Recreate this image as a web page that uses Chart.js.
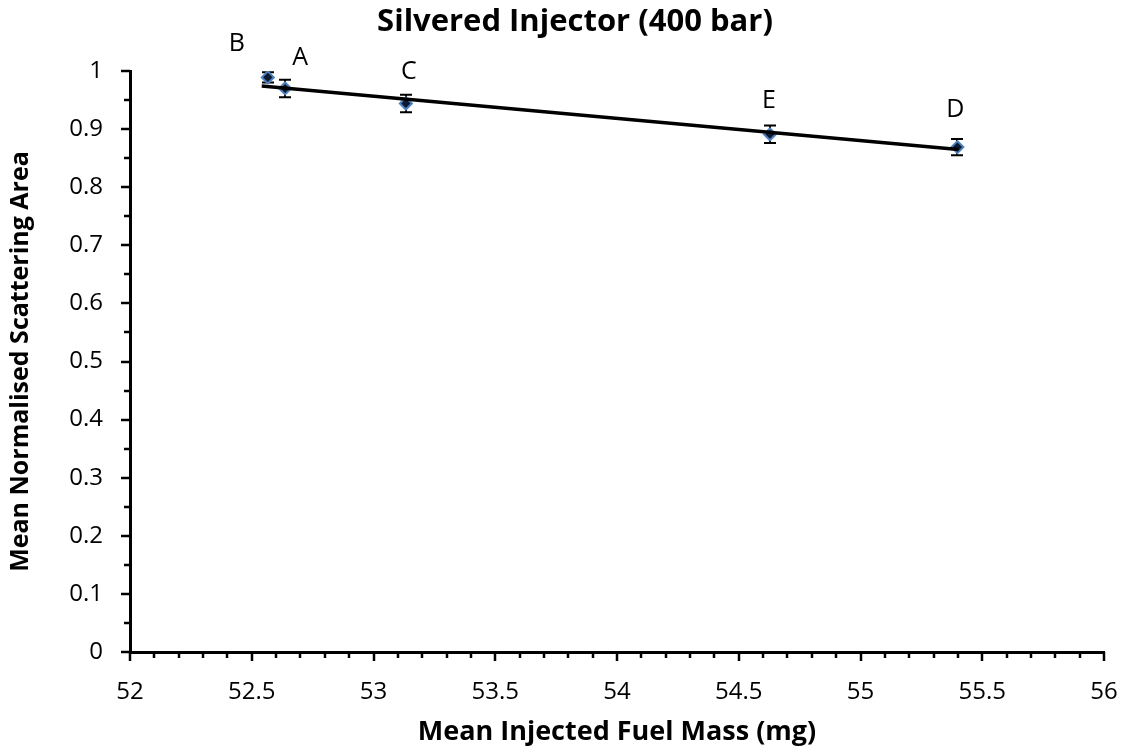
<!DOCTYPE html>
<html>
<head>
<meta charset="utf-8">
<script src="https://cdn.jsdelivr.net/npm/chart.js@4.4.1/dist/chart.umd.min.js"></script>
<style>
  html, body { margin: 0; padding: 0; background: #fff; }
  #wrap { width: 1126px; height: 753px; }
</style>
</head>
<body>
<div id="wrap"><canvas id="chart"></canvas></div>
<script>
// values
const pointNames  = ['B', 'A', 'C', 'E', 'D'];
const fuelMass    = [52.566, 52.637, 53.133, 54.628, 55.398];
const scatterArea = [0.989, 0.970, 0.944, 0.891, 0.869];
const errorSize   = [0.009, 0.015, 0.015, 0.015, 0.014];

// trendline end points
const trendMass = [52.541, 55.402];
const trendArea = [0.974, 0.865];

const xTickValues = [52, 52.5, 53, 53.5, 54, 54.5, 55, 55.5, 56];
const yTickValues = [0, 0.1, 0.2, 0.3, 0.4, 0.5, 0.6, 0.7, 0.8, 0.9, 1];
const xMinorStep = 0.1;
const yMinorStep = 0.05;

const titleText = 'Silvered Injector (400 bar)';
const FONT = "'Open Sans', sans-serif";

// label offsets in px (dx, dy) relative to each point
const labelOffsets = [[-31, -34], [15, -31], [3, -32], [-1, -33], [-2, -37]];

const errorBars = {
  id: 'errorBars',
  beforeDatasetsDraw(chart) {
    const ctx = chart.ctx;
    const x = chart.scales.x, y = chart.scales.y;
    ctx.save();
    ctx.strokeStyle = '#000';
    ctx.lineWidth = 2;
    fuelMass.forEach(function (m, i) {
      const px = Math.round(x.getPixelForValue(m));
      const top = y.getPixelForValue(scatterArea[i] + errorSize[i]);
      const bot = y.getPixelForValue(scatterArea[i] - errorSize[i]);
      ctx.beginPath();
      ctx.moveTo(px, top); ctx.lineTo(px, bot);
      ctx.moveTo(px - 6, top); ctx.lineTo(px + 6, top);
      ctx.moveTo(px - 6, bot); ctx.lineTo(px + 6, bot);
      ctx.stroke();
    });
    ctx.restore();
  }
};

const extras = {
  id: 'extras',
  afterDraw(chart) {
    const ctx = chart.ctx;
    const x = chart.scales.x, y = chart.scales.y;
    const area = chart.chartArea;
    ctx.save();
    // tick marks
    ctx.strokeStyle = '#000';
    ctx.lineWidth = 2.5;
    ctx.beginPath();
    const xn = Math.round((x.max - x.min) / xMinorStep);
    for (let i = 0; i <= xn; i++) {
      const v = x.min + i * xMinorStep;
      const major = xTickValues.some(t => Math.abs(t - v) < 1e-6);
      const px = Math.round(x.getPixelForValue(v));
      ctx.moveTo(px, area.bottom);
      ctx.lineTo(px, area.bottom + (major ? 9 : 6));
    }
    const yn = Math.round((y.max - y.min) / yMinorStep);
    for (let i = 0; i <= yn; i++) {
      const v = y.min + i * yMinorStep;
      const major = yTickValues.some(t => Math.abs(t - v) < 1e-6);
      const py = Math.round(y.getPixelForValue(v));
      ctx.moveTo(area.left, py);
      ctx.lineTo(area.left - (major ? 9 : 6), py);
    }
    ctx.stroke();

    // point labels
    ctx.fillStyle = '#000';
    ctx.font = '25px ' + FONT;
    ctx.textAlign = 'center';
    ctx.textBaseline = 'middle';
    pointNames.forEach(function (name, i) {
      const px = x.getPixelForValue(fuelMass[i]);
      const py = y.getPixelForValue(scatterArea[i]);
      ctx.fillText(name, px + labelOffsets[i][0], py + labelOffsets[i][1]);
    });

    // chart title
    ctx.font = 'bold 31px ' + FONT;
    ctx.fillText(titleText, 575, 22);
    ctx.restore();
  }
};

new Chart(document.getElementById('chart'), {
  type: 'scatter',
  data: {
    datasets: [
      {
        label: 'Linear fit',
        type: 'line',
        data: trendMass.map((m, i) => ({ x: m, y: trendArea[i] })),
        borderColor: '#000',
        borderWidth: 3.5,
        pointRadius: 0,
        fill: false
      },
      {
        label: 'Silvered injector',
        data: fuelMass.map((m, i) => ({ x: m, y: scatterArea[i] })),
        pointStyle: 'rectRot',
        pointRadius: 6,
        backgroundColor: '#0b1a33',
        borderColor: '#4f81bd',
        borderWidth: 2
      }
    ]
  },
  options: {
    responsive: true,
    maintainAspectRatio: false,
    animation: false,
    layout: { padding: { top: 71, right: 22, left: 0, bottom: 0 } },
    plugins: {
      legend: { display: false },
      tooltip: { enabled: false }
    },
    scales: {
      x: {
        type: 'linear',
        min: 52,
        max: 56,
        afterBuildTicks: s => { s.ticks = xTickValues.map(v => ({ value: v })); },
        afterFit: s => { s.height = 101; s.paddingLeft = 0; s.paddingRight = 0; },
        grid: { display: false, drawTicks: false },
        border: { color: '#000', width: 3 },
        ticks: { color: '#000', padding: 26, font: { family: FONT, size: 24 }, callback: v => String(v) },
        title: {
          display: true,
          text: 'Mean Injected Fuel Mass (mg)',
          color: '#000',
          font: { family: FONT, size: 27, weight: 'bold' },
          padding: { top: 0, bottom: 4 }
        }
      },
      y: {
        type: 'linear',
        min: 0,
        max: 1,
        afterBuildTicks: s => { s.ticks = yTickValues.map(v => ({ value: v })); },
        afterFit: s => { s.width = 130; s.paddingTop = 0; s.paddingBottom = 0; },
        grid: { display: false, drawTicks: false },
        border: { color: '#000', width: 3 },
        ticks: { color: '#000', padding: 27, font: { family: FONT, size: 24 }, callback: v => String(v) },
        title: {
          display: true,
          text: 'Mean Normalised Scattering Area',
          color: '#000',
          font: { family: FONT, size: 25, weight: 'bold' },
          padding: { top: 6, bottom: 0 }
        }
      }
    }
  },
  plugins: [errorBars, extras]
});
</script>
</body>
</html>
